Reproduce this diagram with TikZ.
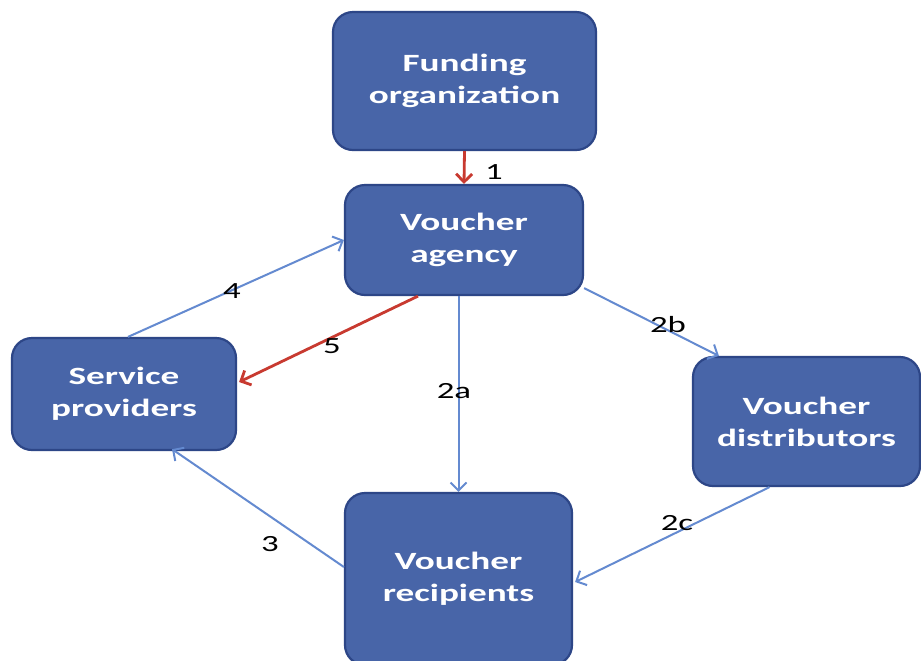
\documentclass[tikz,border=0pt]{standalone}
\usepackage{fontspec}
\setmainfont{Carlito}[FakeStretch=1.5]
\usetikzlibrary{arrows.meta,calc}
\definecolor{boxfill}{RGB}{72,101,168}
\definecolor{boxline}{RGB}{45,70,135}
\definecolor{flowblue}{RGB}{100,138,208}
\definecolor{flowred}{RGB}{200,58,48}
\begin{document}
\begin{tikzpicture}[x=0.5pt,y=-0.5pt,
  agent/.style={draw=boxline, line width=1.1pt, fill=boxfill, rounded corners=10pt,
    text=white, font=\bfseries\fontsize{12.4}{16}\selectfont, align=center,
    inner sep=0pt, rectangle},
  flow/.style={draw=flowblue, line width=1pt, -{Straight Barb[length=4pt,width=8pt]}},
  payflow/.style={draw=flowred, line width=1.4pt, -{Straight Barb[length=4pt,width=8pt]}},
  lbl/.style={font=\fontsize{11.6}{14}\selectfont, text=black, inner sep=0pt}]
\useasboundingbox (0,0) rectangle (921,660);
\fill[white] (0,0) rectangle (921,660);

% actors
\node[agent, minimum width=131.5pt, minimum height=69pt] (fu) at (464.5,81) {Funding\\organization};
\node[agent, minimum width=119pt, minimum height=55pt] (ag) at (464,240) {Voucher\\agency};
\node[agent, minimum width=112pt, minimum height=56pt] (sp) at (124,394) {Service\\providers};
\node[agent, minimum width=113.5pt, minimum height=64.5pt] (ds) at (806.5,421.5) {Voucher\\distributors};
\node[agent, minimum width=113.5pt, minimum height=86pt] (rc) at (458.5,579) {Voucher\\recipients};

% flows
\draw[payflow] (fu.south) -- (ag.north);
\draw[flow] ($(sp.north)+(4,0)$) -- (ag.west);
\draw[payflow] ($(ag.south)+(-46,0)$) -- ($(sp.east)+(2,-12)$);
\draw[flow] (ag.south -| rc.north) -- (rc.north);
\draw[flow] ($(ag.south east)+(0,-8)$) -- ($(ds.north west)+(27,0)$);
\draw[flow] ($(ds.south)+(-37,0)$) -- ($(rc.east)+(2,3)$);
\draw[flow] ($(rc.west)+(0,-12)$) -- ($(sp.south)+(48,-2)$);

% step numbers
\node[lbl] (l1) at (494,172) {1};
\node[lbl] (l4) at (232,291) {4};
\node[lbl] (l5) at (332,346) {5};
\node[lbl] (l2a) at (454,391) {2a};
\node[lbl] (l2b) at (668,325) {2b};
\node[lbl] (l2c) at (677,523) {2c};
\node[lbl] (l3) at (270,544) {3};
\end{tikzpicture}
\end{document}
